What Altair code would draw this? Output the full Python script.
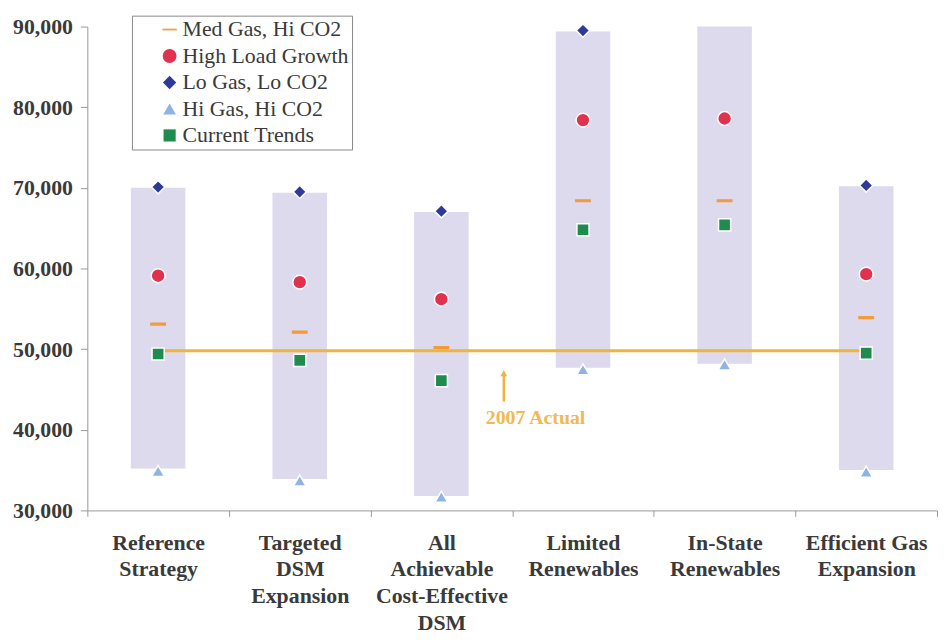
import altair as alt
import pandas as pd

# ---- data ----
categories = [
    "Reference|Strategy",
    "Targeted|DSM|Expansion",
    "All|Achievable|Cost-Effective|DSM",
    "Limited|Renewables",
    "In-State|Renewables",
    "Efficient Gas|Expansion",
]
range_low = [35200, 33900, 31800, 47700, 48200, 35000]
range_high = [70000, 69400, 67000, 89400, 90000, 70200]

series_names = ["Med Gas, Hi CO2", "High Load Growth", "Lo Gas, Lo CO2",
                "Hi Gas, Hi CO2", "Current Trends"]
med_gas = [53100, 52100, 50200, 68400, 68400, 53900]
high_load = [59100, 58300, 56200, 78400, 78600, 59300]
lo_gas = [70100, 69500, 67100, 89500, None, 70300]
hi_gas = [34900, 33700, 31700, 47500, 48100, 34800]
current_trends = [49400, 48600, 46100, 64800, 65400, 49500]

actual_2007 = 49800
actual_label = "2007 Actual"

series_values = [med_gas, high_load, lo_gas, hi_gas, current_trends]
series_colors = ["#F29A3C", "#E0324E", "#2E3A9A", "#8FB4E3", "#1F8C4E"]
dash_path = "M-1,-0.12L1,-0.12L1,0.12L-1,0.12Z"
series_shapes = [dash_path, "circle", "diamond", "triangle-up", "square"]
series_sizes = [210, 150, 150, 140, 175]

# ---- tables ----
ranges = pd.DataFrame({"cat": categories, "low": range_low, "high": range_high})
rows = []
for name, vals in zip(series_names, series_values):
    for c, v in zip(categories, vals):
        if v is not None:
            rows.append({"cat": c, "series": name, "value": v})
points = pd.DataFrame(rows)
line_df = pd.DataFrame([{"x": categories[0], "x2": categories[-1], "y": actual_2007}])
arrow_df = pd.DataFrame([{"cat": categories[2], "y0": 43500, "y1": 47000}])
text_df = pd.DataFrame([{"cat": categories[2], "y": 40700, "t": actual_label}])

FONT = "Liberation Serif"
xscale = alt.Scale(domain=categories, paddingInner=0, paddingOuter=0)
yscale = alt.Scale(domain=[30000, 90000], nice=False, zero=False)

x_axis = alt.Axis(
    title=None, labelExpr="split(datum.label, '|')", labelAngle=0,
    labelFont=FONT, labelFontSize=22, labelFontWeight="bold",
    labelColor="#3a3a3a", labelLineHeight=27, labelPadding=16,
    tickBand="extent", tickSize=6, tickColor="#999999",
    domainColor="#999999", labelLimit=300,
)
y_axis = alt.Axis(
    title=None, values=[30000, 40000, 50000, 60000, 70000, 80000, 90000],
    format=",d", labelFont=FONT, labelFontSize=22, labelFontWeight="bold",
    labelColor="#3a3a3a", labelPadding=8, tickSize=7, tickColor="#999999",
    domainColor="#999999", grid=False,
)

bars = alt.Chart(ranges).mark_bar(size=55, color="#DCDAEC").encode(
    x=alt.X("cat:N", scale=xscale, axis=x_axis, sort=categories),
    y=alt.Y("low:Q", scale=yscale, axis=y_axis),
    y2="high:Q",
)

line = alt.Chart(line_df).mark_rule(color="#F2B23E", strokeWidth=3).encode(
    x=alt.X("x:N", scale=xscale, sort=categories),
    x2="x2:N",
    y=alt.Y("y:Q", scale=yscale),
)

arrow = alt.Chart(arrow_df).mark_rule(color="#F2B23E", strokeWidth=2.5, xOffset=63).encode(
    x=alt.X("cat:N", scale=xscale, sort=categories),
    y=alt.Y("y0:Q", scale=yscale),
    y2="y1:Q",
)
arrow_head = alt.Chart(arrow_df).mark_point(
    shape="triangle-up", filled=True, color="#F2B23E", size=50, opacity=1, xOffset=63
).encode(
    x=alt.X("cat:N", scale=xscale, sort=categories),
    y=alt.Y("y1:Q", scale=yscale),
)
label = alt.Chart(text_df).mark_text(
    font=FONT, fontSize=20, fontWeight="bold", color="#F2B851",
    dx=95, align="center", baseline="alphabetic",
).encode(
    x=alt.X("cat:N", scale=xscale, sort=categories),
    y=alt.Y("y:Q", scale=yscale),
    text="t:N",
)

legend_props = dict(
    title=None, labelFont=FONT, labelFontSize=22, labelColor="#3a3a3a",
    labelLimit=400, labelExpr="datum.label + '\u00a0\u00a0\u00a0\u00a0\u00a0\u00a0'",
)

pts = alt.Chart(points).mark_point(
    filled=True, opacity=1, strokeWidth=1.5
).encode(
    x=alt.X("cat:N", scale=xscale, sort=categories),
    y=alt.Y("value:Q", scale=yscale),
    color=alt.Color("series:N", scale=alt.Scale(domain=series_names, range=series_colors),
                    legend=alt.Legend(**legend_props)),
    shape=alt.Shape("series:N", scale=alt.Scale(domain=series_names, range=series_shapes),
                    legend=alt.Legend(**legend_props)),
    size=alt.Size("series:N", scale=alt.Scale(domain=series_names, range=series_sizes),
                  legend=alt.Legend(**legend_props)),
    stroke=alt.condition(alt.datum.series == series_names[0],
                         alt.value(series_colors[0]), alt.value("white")),
)

chart = alt.layer(bars, line, arrow, arrow_head, label, pts).properties(
    width=857, height=488,
    autosize=alt.AutoSizeParams(type="none"),
    padding={"left": 80, "top": 16, "right": 2, "bottom": 130},
).configure_view(stroke=None).configure_legend(
    orient="none", legendX=45, legendY=-11,
    labelFont=FONT, labelFontSize=22, labelColor="#3a3a3a", labelLimit=400,
    strokeColor="#888888", fillColor="white", padding=3,
    symbolOffset=24, rowPadding=4.7, symbolStrokeWidth=0, labelOffset=2,
)

chart.save("out.html", embed_options={"renderer": "svg", "actions": False})
